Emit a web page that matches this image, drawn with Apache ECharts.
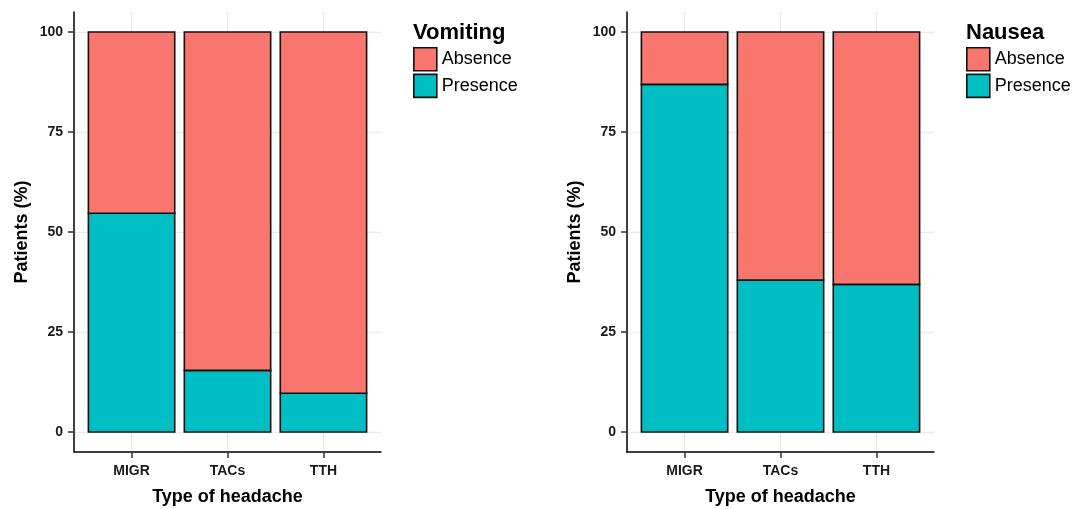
<!DOCTYPE html>
<html>
<head>
<meta charset="utf-8">
<script src="https://cdn.jsdelivr.net/npm/echarts@6/dist/echarts.min.js"></script>
<style>
  html, body { margin: 0; padding: 0; background: #fff; }
  #chart { width: 1080px; height: 509px; }
</style>
</head>
<body>
<div id="chart"></div>
<script>
// Headache types on the x axis
const categories = ['MIGR', 'TACs', 'TTH'];
// Percent of patients per headache type
const vomitingPresence = [54.7, 15.4, 9.7];
const vomitingAbsence = [45.3, 84.6, 90.3];
const nauseaPresence = [86.9, 38.0, 36.9];
const nauseaAbsence = [13.1, 62.0, 63.1];
// Tick values on the percentage axis
const yTicks = [0, 25, 50, 75, 100];
const legendNames = ['Absence', 'Presence'];

const RED = '#F8766D';
const TEAL = '#00BFC4';
const FONT = '"Liberation Sans", Arial, sans-serif';

const panels = [
  { left: 74, title: 'Vomiting', presence: vomitingPresence, absence: vomitingAbsence, legendLeft: 413 },
  { left: 627, title: 'Nausea', presence: nauseaPresence, absence: nauseaAbsence, legendLeft: 966 }
];
const GRID_W = 307, GRID_TOP = 12, GRID_H = 440;
// discrete scale padded by 0.6 of a band on each side; bars fill 90% of a band
const X_MIN = 0.4, X_MAX = categories.length + 0.6;
const HALF_BAR = 0.45;
const catTicks = categories.map((c, i) => i + 1);

// stacked segment: [category position, lower %, upper %]
function segments(lower, values) {
  return values.map((v, i) => [i + 1, lower[i], lower[i] + v]);
}
function renderSegment(fill) {
  return function (params, api) {
    const x = api.value(0), lo = api.value(1), hi = api.value(2);
    const a = api.coord([x - HALF_BAR, hi]);
    const b = api.coord([x + HALF_BAR, lo]);
    return {
      type: 'rect',
      shape: { x: a[0], y: a[1], width: b[0] - a[0], height: b[1] - a[1] },
      style: { fill: fill, stroke: '#111', lineWidth: 1.6 }
    };
  };
}

const chart = echarts.init(document.getElementById('chart'), null, { renderer: 'canvas' });

const grid = [], xAxis = [], yAxis = [], series = [], title = [], legend = [];
panels.forEach((p, k) => {
  grid.push({ left: p.left, top: GRID_TOP, width: GRID_W, height: GRID_H, containLabel: false, outerBoundsMode: 'none' });
  xAxis.push({
    type: 'value', gridIndex: k, min: X_MIN, max: X_MAX,
    name: 'Type of headache', nameLocation: 'middle', nameGap: 36,
    nameTextStyle: { fontFamily: FONT, fontWeight: 'bold', fontSize: 18, color: '#000' },
    axisLine: { show: true, onZero: false, lineStyle: { color: '#000', width: 1.5 } },
    axisTick: { show: true, length: 6, customValues: catTicks, lineStyle: { color: '#333', width: 1.5 } },
    axisLabel: {
      customValues: catTicks, margin: 12,
      fontFamily: FONT, fontWeight: 'bold', fontSize: 14, color: '#1a1a1a',
      formatter: v => categories[Math.round(v) - 1] || ''
    },
    splitLine: { show: false }
  });
  yAxis.push({
    type: 'value', gridIndex: k, min: -5, max: 105,
    name: 'Patients (%)', nameLocation: 'middle', nameGap: 43,
    nameTextStyle: { fontFamily: FONT, fontWeight: 'bold', fontSize: 18, color: '#000' },
    axisLine: { show: true, onZero: false, lineStyle: { color: '#000', width: 1.5 } },
    axisTick: { show: true, length: 6, customValues: yTicks, lineStyle: { color: '#333', width: 1.5 } },
    axisLabel: {
      customValues: yTicks, margin: 11,
      fontFamily: FONT, fontWeight: 'bold', fontSize: 14, color: '#1a1a1a'
    },
    splitLine: { show: false }
  });
  // light major grid lines at category centres and percentage ticks
  series.push({
    type: 'line', xAxisIndex: k, yAxisIndex: k, silent: true, data: [], z: 0,
    markLine: {
      silent: true, symbol: 'none', z: 0, animation: false,
      label: { show: false },
      lineStyle: { color: '#ebebeb', width: 1.3, type: 'solid' },
      emphasis: { disabled: true },
      data: catTicks.map(v => ({ xAxis: v })).concat(yTicks.map(v => ({ yAxis: v })))
    }
  });
  const zeros = p.presence.map(() => 0);
  series.push({
    name: 'Presence', type: 'custom', xAxisIndex: k, yAxisIndex: k, z: 3,
    itemStyle: { color: TEAL },
    encode: { x: 0, y: [1, 2] },
    renderItem: renderSegment(TEAL),
    data: segments(zeros, p.presence)
  });
  series.push({
    name: 'Absence', type: 'custom', xAxisIndex: k, yAxisIndex: k, z: 3,
    itemStyle: { color: RED },
    encode: { x: 0, y: [1, 2] },
    renderItem: renderSegment(RED),
    data: segments(p.presence, p.absence)
  });
  title.push({
    text: p.title, left: p.legendLeft, top: 22, padding: 0,
    textStyle: { fontFamily: FONT, fontWeight: 'bold', fontSize: 22, color: '#000' }
  });
  legend.push({
    data: legendNames, orient: 'vertical', left: p.legendLeft, top: 47, padding: 0,
    itemWidth: 23, itemHeight: 23, itemGap: 2, icon: 'rect', selectedMode: false,
    itemStyle: { borderColor: '#111', borderWidth: 1.6 },
    textStyle: { fontFamily: FONT, fontSize: 18, color: '#000' }
  });
});

chart.setOption({
  animation: false,
  backgroundColor: '#fff',
  title, legend, grid, xAxis, yAxis, series
});
</script>
</body>
</html>
